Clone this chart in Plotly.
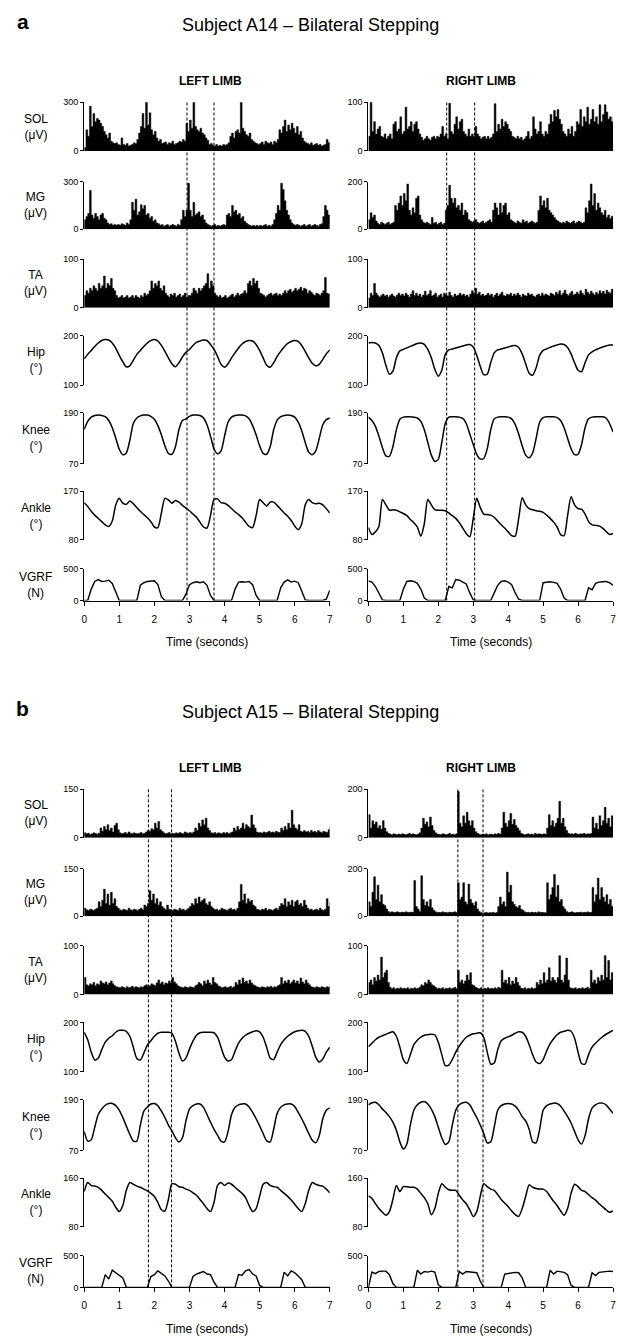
import plotly.graph_objects as go

W, H = 618, 1339

# ---------------- sample times ----------------
TIME_EMG = [round(i * 0.05, 2) for i in range(141)]
TIME_KIN = [round(i * 0.1, 1) for i in range(71)]

# ---------------- labels ----------------
PANEL_LETTERS = ["a", "b"]
PANEL_TITLES = ["Subject A14 – Bilateral Stepping", "Subject A15 – Bilateral Stepping"]
COL_TITLES = ["LEFT LIMB", "RIGHT LIMB"]
ROW_LABELS = ["SOL<br>(μV)", "MG<br>(μV)", "TA<br>(μV)", "Hip<br>(°)", "Knee<br>(°)", "Ankle<br>(°)", "VGRF<br>(N)"]
X_TICKS = [0, 1, 2, 3, 4, 5, 6, 7]
X_TITLE = "Time (seconds)"

# y tick values (min, max) per panel / column / row
YTICKS_A_L = [[0, 300], [0, 300], [0, 100], [100, 200], [70, 190], [80, 170], [0, 500]]
YTICKS_A_R = [[0, 100], [0, 200], [0, 100], [100, 200], [70, 190], [80, 170], [0, 500]]
YTICKS_B_L = [[0, 150], [0, 150], [0, 100], [100, 200], [70, 190], [80, 160], [0, 500]]
YTICKS_B_R = [[0, 200], [0, 200], [0, 100], [100, 200], [70, 190], [80, 160], [0, 500]]

# dashed event markers (seconds)
DASH_A_L = [2.93, 3.70]
DASH_A_R = [2.24, 3.04]
DASH_B_L = [1.83, 2.49]
DASH_B_R = [2.56, 3.28]

# ---------------- Subject A14 EMG (0.05 s) ----------------
A_L_SOL = [20, 130, 90, 275, 150, 230, 180, 200, 190, 170, 150, 120, 100, 80, 110, 60, 50, 45, 50, 40,
           35, 80, 40, 35, 45, 30, 35, 40, 50, 45, 70, 110, 150, 230, 140, 300, 160, 235, 130, 100,
           120, 80, 60, 70, 45, 50, 55, 40, 50, 45, 60, 40, 45, 50, 60, 55, 70, 60, 170, 120,
           190, 140, 300, 150, 130, 120, 140, 110, 100, 80, 65, 40, 45, 35, 30, 40, 30, 35, 30, 40,
           35, 40, 50, 90, 110, 80, 120, 130, 110, 300, 140, 120, 100, 90, 110, 70, 60, 50, 45, 40,
           45, 55, 40, 60, 50, 45, 55, 40, 60, 50, 70, 130, 110, 150, 190, 120, 160, 130, 170, 140,
           110, 150, 100, 120, 80, 60, 50, 45, 40, 50, 35, 40, 45, 35, 40, 30, 35, 40, 70, 50,
           60]
A_R_SOL = [30, 100, 40, 60, 35, 45, 50, 30, 28, 35, 25, 30, 35, 25, 55, 60, 40, 45, 70, 35,
           40, 90, 45, 50, 60, 40, 55, 60, 45, 35, 28, 22, 25, 30, 25, 22, 28, 30, 25, 30,
           28, 35, 50, 30, 35, 25, 98, 40, 35, 55, 70, 45, 60, 65, 40, 35, 30, 45, 30, 35,
           30, 50, 35, 30, 25, 28, 30, 25, 30, 25, 28, 35, 97, 40, 55, 45, 65, 50, 60, 55,
           45, 40, 30, 28, 25, 30, 25, 28, 22, 25, 30, 40, 25, 30, 70, 45, 35, 40, 60, 35,
           30, 40, 35, 55, 75, 60, 83, 70, 85, 65, 55, 40, 35, 30, 45, 35, 50, 30, 40, 60,
           55, 85, 50, 70, 60, 90, 55, 65, 85, 60, 70, 55, 95, 60, 75, 95, 80, 65, 70, 60,
           70]
A_L_MG = [60, 80, 100, 245, 90, 70, 100, 80, 60, 90, 100, 70, 60, 40, 30, 35, 25, 30, 25, 30,
          25, 35, 30, 25, 40, 30, 60, 170, 120, 190, 90, 110, 155, 130, 150, 90, 100, 70, 80, 50,
          60, 40, 35, 25, 30, 20, 25, 30, 20, 25, 30, 25, 20, 30, 25, 60, 120, 80, 120, 290,
          120, 80, 170, 90, 100, 110, 80, 90, 60, 40, 30, 25, 20, 25, 30, 20, 25, 20, 25, 30,
          25, 90, 100, 80, 150, 110, 120, 90, 100, 70, 80, 50, 40, 30, 25, 20, 25, 20, 25, 20,
          25, 20, 25, 30, 20, 25, 20, 30, 60, 100, 150, 120, 290, 250, 180, 120, 90, 60, 40, 30,
          25, 30, 25, 20, 25, 30, 20, 25, 30, 20, 25, 30, 25, 20, 30, 35, 80, 150, 120, 90,
          40]
A_R_MG = [40, 70, 50, 60, 35, 25, 20, 30, 25, 20, 25, 30, 20, 25, 30, 100, 80, 110, 140, 100,
          150, 120, 190, 80, 60, 90, 70, 130, 140, 60, 40, 30, 25, 30, 25, 20, 50, 25, 30, 20,
          25, 30, 20, 25, 80, 100, 185, 130, 110, 130, 90, 100, 80, 110, 60, 80, 70, 40, 35, 30,
          35, 40, 30, 25, 30, 35, 25, 30, 35, 40, 30, 80, 110, 90, 60, 110, 70, 100, 110, 60,
          70, 40, 35, 30, 25, 35, 30, 25, 40, 30, 35, 25, 30, 35, 30, 25, 30, 80, 140, 100,
          120, 90, 130, 80, 70, 60, 50, 40, 35, 30, 25, 30, 25, 35, 30, 25, 30, 35, 25, 30,
          35, 30, 25, 30, 90, 70, 120, 190, 100, 150, 80, 110, 90, 70, 60, 80, 50, 60, 45, 55,
          50]
A_L_TA = [25, 35, 30, 40, 35, 45, 40, 35, 50, 40, 45, 65, 40, 50, 45, 60, 40, 35, 25, 20,
          22, 25, 20, 22, 25, 20, 22, 25, 20, 25, 22, 20, 25, 22, 30, 25, 28, 35, 55, 40,
          50, 45, 55, 40, 35, 45, 30, 25, 22, 28, 25, 30, 22, 25, 28, 22, 25, 30, 22, 25,
          25, 30, 40, 35, 30, 40, 35, 40, 45, 50, 70, 40, 55, 45, 30, 25, 22, 25, 20, 22,
          25, 20, 22, 25, 28, 22, 25, 30, 25, 28, 30, 35, 30, 50, 55, 45, 60, 50, 55, 40,
          30, 28, 25, 22, 25, 28, 30, 25, 28, 30, 25, 28, 25, 30, 35, 30, 35, 38, 32, 35,
          40, 35, 38, 42, 35, 40, 38, 30, 35, 32, 28, 25, 30, 28, 25, 30, 35, 62, 30, 28,
          30]
A_R_TA = [20, 30, 25, 50, 30, 25, 22, 25, 28, 24, 26, 22, 25, 28, 24, 22, 26, 30, 25, 28,
          24, 30, 26, 22, 28, 35, 25, 30, 24, 28, 22, 26, 34, 25, 28, 35, 24, 26, 30, 22,
          25, 28, 22, 30, 26, 24, 32, 25, 22, 28, 24, 26, 30, 25, 28, 24, 26, 22, 28, 35,
          30, 40, 28, 32, 25, 28, 24, 26, 30, 25, 28, 22, 26, 30, 24, 28, 32, 25, 24, 28,
          26, 30, 24, 28, 25, 30, 26, 22, 28, 25, 24, 30, 26, 28, 24, 22, 26, 28, 24, 30,
          25, 28, 26, 24, 30, 28, 25, 32, 28, 35, 26, 30, 36, 28, 25, 30, 34, 26, 28, 32,
          28, 35, 30, 26, 38, 32, 28, 34, 30, 26, 32, 28, 35, 30, 34, 28, 36, 32, 30, 38,
          35]

# ---------------- Subject A14 kinematics / force (0.1 s) ----------------
A_L_HIP = [153, 162, 170, 178, 185, 190, 192, 191, 185, 174,
           160, 147, 137, 139, 150, 162, 170, 178, 185, 190,
           192, 189, 180, 168, 155, 143, 137, 145, 157, 166,
           172, 180, 186, 189, 191, 190, 182, 172, 158, 142,
           136, 143, 155, 165, 175, 183, 188, 190, 189, 182,
           170, 155, 140, 136, 145, 158, 168, 177, 184, 188,
           190, 188, 180, 168, 155, 144, 139, 142, 152, 163,
           171]
A_R_HIP = [185, 186, 185, 180, 165, 140, 122, 128, 155, 169,
           172, 175, 178, 181, 184, 185, 182, 172, 155, 132,
           118, 130, 162, 171, 173, 175, 177, 179, 181, 182,
           177, 160, 138, 121, 122, 145, 165, 171, 173, 175,
           177, 179, 180, 176, 163, 143, 124, 120, 135, 160,
           170, 173, 176, 179, 181, 183, 182, 176, 163, 145,
           130, 127, 145, 161, 167, 171, 174, 177, 179, 181,
           181]
A_L_KNEE = [151, 170, 180, 184, 185, 184, 181, 172, 155, 130,
            104, 91, 95, 125, 165, 178, 183, 185, 185, 182,
            175, 160, 138, 112, 94, 92, 110, 150, 172, 176,
            182, 185, 185, 184, 178, 162, 135, 105, 93, 100,
            135, 168, 180, 184, 185, 185, 183, 176, 160, 138,
            112, 94, 92, 110, 150, 173, 181, 184, 185, 184,
            180, 168, 148, 120, 97, 91, 100, 130, 162, 174,
            178]
A_R_KNEE = [180, 172, 158, 135, 108, 88, 87, 110, 150, 175,
            180, 181, 181, 180, 178, 170, 150, 120, 90, 75,
            80, 120, 165, 180, 181, 181, 180, 177, 165, 140,
            115, 92, 81, 82, 105, 150, 176, 180, 181, 181,
            180, 176, 163, 140, 112, 90, 84, 95, 130, 168,
            179, 181, 181, 181, 179, 172, 155, 130, 105, 91,
            92, 115, 155, 176, 180, 181, 181, 181, 178, 165,
            145]
A_L_ANKLE = [149, 142, 133, 126, 120, 114, 108, 105, 115, 145,
             157, 148, 146, 152, 147, 140, 133, 127, 121, 114,
             104, 103, 130, 157, 154, 148, 153, 150, 144, 139,
             134, 128, 122, 113, 104, 102, 125, 155, 156, 149,
             148, 144, 138, 132, 127, 121, 113, 105, 103, 125,
             155, 149, 143, 150, 150, 144, 137, 130, 124, 116,
             106, 99, 110, 145, 155, 149, 147, 148, 145, 138,
             130]
A_R_ANKLE = [103, 90, 95, 105, 155, 145, 135, 136, 135, 132,
             129, 125, 118, 112, 104, 87, 110, 155, 145, 136,
             135, 135, 134, 130, 125, 120, 112, 102, 92, 86,
             120, 157, 140, 128, 127, 126, 122, 115, 108, 102,
             95, 88, 87, 120, 158, 145, 138, 136, 134, 133,
             131, 126, 120, 113, 104, 90, 88, 125, 160, 145,
             138, 137, 128, 114, 108, 107, 106, 102, 96, 90,
             92]
A_L_VGRF = [0, 0, 180, 300, 330, 300, 305, 320, 270, 120,
            0, 0, 0, 0, 0, 0, 240, 280, 300, 305,
            310, 250, 60, 0, 0, 0, 0, 0, 0, 100,
            250, 280, 295, 280, 295, 240, 80, 0, 0, 0,
            0, 0, 0, 180, 290, 295, 290, 300, 250, 80,
            0, 0, 0, 0, 0, 0, 200, 290, 325, 290,
            305, 280, 150, 10, 0, 0, 0, 0, 0, 20,
            160]
A_R_VGRF = [310, 290, 220, 120, 10, 0, 0, 0, 0, 0,
            180, 300, 310, 300, 270, 180, 40, 0, 0, 0,
            0, 0, 0, 220, 200, 330, 320, 290, 260, 120,
            10, 0, 0, 0, 0, 0, 120, 240, 300, 310,
            290, 250, 120, 20, 0, 0, 0, 0, 0, 0,
            280, 290, 295, 285, 270, 180, 40, 0, 0, 0,
            0, 0, 0, 200, 170, 270, 290, 295, 300, 280,
            240]

# ---------------- Subject A15 EMG (0.05 s) ----------------
B_L_SOL = [15, 12, 14, 10, 12, 15, 13, 11, 14, 30, 20, 35, 25, 40, 22, 30, 18, 38, 45, 25,
           15, 12, 14, 16, 12, 18, 14, 12, 15, 13, 12, 14, 16, 12, 14, 18, 22, 20, 28, 25,
           45, 30, 50, 25, 20, 15, 12, 14, 16, 12, 14, 12, 15, 13, 16, 14, 12, 18, 15, 14,
           16, 14, 18, 30, 22, 45, 35, 55, 40, 60, 30, 22, 15, 14, 16, 12, 15, 14, 12, 16,
           14, 16, 12, 15, 18, 30, 22, 35, 25, 30, 45, 28, 40, 35, 30, 70, 40, 30, 18, 15,
           16, 14, 18, 15, 17, 20, 16, 18, 15, 20, 17, 16, 30, 22, 35, 25, 45, 30, 85, 40,
           30, 25, 40, 20, 18, 22, 18, 20, 16, 22, 18, 20, 16, 22, 18, 15, 20, 18, 16, 25,
           35]
B_R_SOL = [95, 40, 70, 55, 65, 40, 50, 35, 70, 40, 25, 18, 15, 12, 16, 14, 12, 15, 13, 16,
           14, 12, 15, 18, 13, 16, 14, 12, 15, 20, 40, 80, 55, 65, 45, 85, 50, 30, 20, 15,
           14, 12, 16, 15, 12, 14, 18, 13, 15, 12, 16, 190, 60, 45, 90, 60, 105, 70, 50, 70,
           40, 25, 18, 14, 12, 15, 13, 16, 12, 14, 15, 12, 16, 14, 18, 15, 40, 105, 60, 45,
           70, 100, 55, 75, 50, 40, 30, 18, 15, 12, 14, 16, 13, 15, 12, 18, 14, 16, 15, 13,
           16, 14, 40, 95, 50, 70, 45, 60, 80, 150, 60, 80, 45, 30, 18, 15, 16, 14, 18, 15,
           14, 16, 15, 18, 14, 16, 15, 17, 85, 40, 60, 35, 90, 50, 70, 125, 60, 80, 45, 90,
           60]
B_L_MG = [25, 20, 18, 22, 20, 18, 22, 25, 45, 30, 50, 85, 40, 70, 35, 75, 40, 55, 30, 25,
          20, 18, 22, 20, 18, 25, 20, 18, 22, 20, 18, 22, 25, 20, 35, 30, 40, 80, 50, 70,
          40, 55, 35, 45, 30, 25, 20, 35, 22, 20, 18, 22, 20, 18, 25, 20, 22, 18, 20, 25,
          30, 40, 35, 55, 40, 60, 45, 50, 55, 40, 35, 45, 30, 25, 20, 22, 18, 20, 25, 22,
          20, 18, 22, 25, 20, 22, 18, 25, 45, 100, 50, 70, 40, 55, 45, 50, 35, 30, 22, 20,
          18, 22, 20, 25, 18, 22, 20, 18, 22, 25, 20, 30, 40, 35, 55, 30, 45, 35, 50, 30,
          45, 50, 35, 40, 30, 50, 35, 25, 20, 22, 18, 20, 22, 18, 25, 20, 18, 22, 55, 30,
          45]
B_R_MG = [60, 40, 100, 165, 70, 130, 60, 90, 50, 45, 30, 20, 15, 18, 16, 15, 18, 16, 15, 17,
          15, 18, 16, 15, 17, 16, 150, 40, 30, 20, 170, 70, 45, 60, 40, 70, 35, 25, 18, 15,
          16, 15, 18, 15, 16, 14, 17, 15, 16, 18, 15, 140, 70, 80, 140, 60, 50, 135, 70, 55,
          45, 60, 30, 20, 15, 12, 14, 16, 13, 15, 14, 16, 13, 15, 40, 80, 50, 60, 40, 185,
          100, 130, 60, 50, 40, 35, 45, 30, 25, 18, 15, 16, 14, 17, 15, 16, 14, 18, 15, 16,
          15, 14, 140, 70, 90, 120, 175, 80, 130, 60, 70, 40, 30, 20, 15, 16, 18, 15, 14, 16,
          15, 17, 14, 16, 15, 18, 15, 16, 120, 60, 90, 160, 70, 120, 80, 60, 90, 50, 70, 40,
          50]
B_L_TA = [35, 20, 18, 22, 20, 25, 18, 22, 20, 28, 24, 22, 26, 20, 24, 28, 22, 18, 16, 15,
          14, 16, 15, 13, 16, 14, 15, 17, 14, 16, 15, 14, 16, 15, 18, 20, 16, 18, 22, 20,
          18, 24, 30, 22, 26, 20, 24, 22, 28, 24, 35, 26, 22, 18, 16, 15, 14, 16, 15, 14,
          16, 15, 14, 18, 20, 25, 22, 18, 28, 22, 30, 24, 20, 35, 25, 22, 18, 16, 14, 15,
          16, 14, 15, 17, 14, 16, 25, 20, 30, 22, 34, 25, 28, 22, 30, 24, 20, 18, 16, 15,
          14, 16, 15, 14, 16, 15, 17, 14, 16, 15, 18, 20, 35, 22, 28, 24, 30, 22, 26, 30,
          24, 28, 22, 34, 26, 22, 30, 24, 20, 16, 15, 14, 16, 15, 14, 16, 15, 14, 16, 15,
          18]
B_R_TA = [25, 30, 20, 35, 28, 40, 30, 77, 35, 45, 50, 25, 15, 12, 14, 11, 13, 12, 14, 12,
          13, 12, 14, 11, 13, 12, 14, 12, 13, 15, 20, 18, 25, 22, 30, 25, 20, 18, 15, 12,
          13, 12, 14, 11, 13, 12, 14, 12, 13, 15, 12, 50, 25, 30, 22, 28, 40, 30, 45, 20,
          18, 15, 13, 12, 14, 11, 13, 12, 14, 12, 13, 12, 14, 12, 15, 13, 50, 25, 30, 22,
          35, 20, 28, 22, 35, 25, 18, 13, 12, 14, 11, 13, 12, 14, 12, 13, 25, 20, 30, 22,
          45, 25, 30, 55, 28, 35, 30, 25, 35, 80, 30, 25, 40, 75, 30, 14, 13, 12, 14, 11,
          13, 12, 14, 12, 13, 15, 12, 50, 25, 30, 22, 35, 28, 40, 30, 80, 35, 70, 30, 45,
          35]

# ---------------- Subject A15 kinematics / force (0.1 s) ----------------
B_L_HIP = [180, 165, 140, 124, 128, 145, 160, 168, 173, 180,
           184, 184, 182, 172, 150, 127, 124, 138, 154, 163,
           172, 178, 180, 180, 180, 178, 162, 138, 122, 128,
           146, 162, 174, 179, 180, 180, 180, 179, 170, 150,
           130, 122, 125, 142, 158, 168, 174, 178, 181, 183,
           181, 170, 150, 128, 125, 140, 155, 165, 172, 177,
           181, 183, 184, 182, 172, 152, 130, 120, 126, 140,
           150]
B_R_HIP = [151, 158, 165, 170, 173, 176, 179, 181, 172, 150,
           125, 117, 135, 155, 164, 170, 174, 175, 176, 175,
           160, 135, 113, 114, 125, 140, 152, 162, 170, 174,
           177, 178, 179, 170, 140, 116, 118, 145, 163, 168,
           171, 174, 178, 181, 180, 172, 155, 135, 120, 117,
           125, 142, 157, 167, 175, 180, 182, 184, 182, 168,
           140, 117, 116, 135, 150, 158, 165, 171, 176, 180,
           184]
B_L_KNEE = [115, 92, 95, 125, 155, 168, 177, 181, 181, 176,
            165, 148, 128, 108, 92, 92, 130, 163, 173, 180,
            181, 176, 163, 148, 130, 116, 100, 90, 100, 140,
            168, 176, 180, 180, 172, 155, 137, 120, 106, 92,
            90, 115, 155, 172, 178, 180, 180, 173, 160, 145,
            128, 110, 93, 90, 120, 158, 172, 178, 180, 180,
            174, 160, 145, 128, 110, 94, 88, 105, 145, 165,
            171]
B_R_KNEE = [178, 183, 184, 178, 168, 160, 150, 137, 118, 90,
            73, 85, 130, 165, 178, 184, 186, 180, 168, 150,
            125, 100, 84, 90, 130, 165, 178, 183, 184, 178,
            163, 148, 130, 110, 88, 90, 125, 165, 176, 180,
            181, 180, 175, 165, 150, 140, 120, 90, 88, 120,
            165, 176, 180, 182, 181, 175, 163, 150, 135, 115,
            95, 85, 105, 145, 170, 178, 182, 182, 178, 168,
            158]
B_L_ANKLE = [138, 153, 148, 147, 145, 140, 134, 128, 122, 112,
             105, 115, 140, 153, 150, 147, 145, 142, 139, 135,
             130, 120, 108, 106, 125, 151, 150, 146, 145, 142,
             140, 136, 132, 125, 118, 110, 105, 120, 148, 153,
             148, 152, 150, 145, 140, 135, 128, 115, 105, 110,
             130, 150, 153, 148, 146, 145, 140, 135, 130, 124,
             117, 110, 105, 118, 140, 153, 150, 148, 147, 142,
             136]
B_R_ANKLE = [131, 127, 118, 110, 104, 99, 105, 125, 148, 138,
             146, 146, 145, 145, 142, 135, 128, 118, 100, 110,
             135, 151, 145, 141, 140, 140, 132, 124, 118, 108,
             97, 105, 130, 151, 146, 142, 140, 133, 125, 119,
             113, 106, 100, 97, 110, 130, 149, 145, 143, 142,
             142, 138, 130, 122, 115, 106, 99, 110, 135, 150,
             146, 140, 138, 133, 128, 124, 118, 113, 108, 104,
             106]
B_L_VGRF = [0, 0, 0, 0, 0, 0, 200, 130, 270, 230,
            190, 150, 0, 0, 0, 0, 0, 0, 0, 170,
            200, 260, 220, 180, 100, 0, 0, 0, 0, 0,
            0, 170, 210, 230, 250, 210, 200, 80, 0, 0,
            0, 0, 0, 0, 200, 190, 260, 280, 210, 180,
            30, 0, 0, 0, 0, 0, 0, 240, 180, 260,
            230, 180, 120, 0, 0, 0, 0, 0, 0, 0,
            0]
B_R_VGRF = [0, 240, 215, 250, 255, 255, 200, 60, 0, 0,
            0, 0, 0, 0, 270, 210, 250, 240, 255, 240,
            40, 0, 0, 0, 0, 0, 250, 210, 250, 240,
            235, 230, 100, 0, 0, 0, 0, 0, 0, 210,
            220, 235, 235, 230, 150, 0, 0, 0, 0, 0,
            0, 0, 270, 210, 255, 245, 235, 200, 30, 0,
            0, 0, 0, 0, 230, 185, 235, 245, 250, 255,
            250]

for arr in [A_L_SOL, A_R_SOL, A_L_MG, A_R_MG, A_L_TA, A_R_TA,
            B_L_SOL, B_R_SOL, B_L_MG, B_R_MG, B_L_TA, B_R_TA]:
    assert len(arr) == 141, len(arr)
for arr in [A_L_HIP, A_R_HIP, A_L_KNEE, A_R_KNEE, A_L_ANKLE, A_R_ANKLE, A_L_VGRF, A_R_VGRF,
            B_L_HIP, B_R_HIP, B_L_KNEE, B_R_KNEE, B_L_ANKLE, B_R_ANKLE, B_L_VGRF, B_R_VGRF]:
    assert len(arr) == 71, len(arr)

# ---------------- layout geometry (pixels) ----------------
COL_X = [(82, 330), (369, 616)]
ROW_TOP = [98, 178, 256, 333, 411, 490, 568]
ROW_BOT = [147, 226, 305, 383, 462, 539, 600]
PANEL_OFF = [0, 692]
FONT = "Arial, 'Liberation Sans', sans-serif"

PANELS = [
    [dict(series=[A_L_SOL, A_L_MG, A_L_TA, A_L_HIP, A_L_KNEE, A_L_ANKLE, A_L_VGRF], ticks=YTICKS_A_L, dash=DASH_A_L),
     dict(series=[A_R_SOL, A_R_MG, A_R_TA, A_R_HIP, A_R_KNEE, A_R_ANKLE, A_R_VGRF], ticks=YTICKS_A_R, dash=DASH_A_R)],
    [dict(series=[B_L_SOL, B_L_MG, B_L_TA, B_L_HIP, B_L_KNEE, B_L_ANKLE, B_L_VGRF], ticks=YTICKS_B_L, dash=DASH_B_L),
     dict(series=[B_R_SOL, B_R_MG, B_R_TA, B_R_HIP, B_R_KNEE, B_R_ANKLE, B_R_VGRF], ticks=YTICKS_B_R, dash=DASH_B_R)],
]


def py(px):
    return 1 - px / H


fig = go.Figure()
layout = {}
annotations = []
shapes = []

for p, panel in enumerate(PANELS):
    off = PANEL_OFF[p]
    annotations.append(dict(text="<b>%s</b>" % PANEL_LETTERS[p], x=20 / W, y=py(off + 17), xref="paper", yref="paper",
                            showarrow=False, xanchor="center", yanchor="middle", font=dict(size=21, family=FONT)))
    annotations.append(dict(text=PANEL_TITLES[p], x=311 / W, y=py(off + 20), xref="paper", yref="paper",
                            showarrow=False, xanchor="center", yanchor="middle", font=dict(size=18, family=FONT)))
    for r, lab in enumerate(ROW_LABELS):
        yc = (ROW_TOP[r] + ROW_BOT[r]) / 2 + off
        annotations.append(dict(text=lab, x=33 / W, y=py(yc), xref="paper", yref="paper", showarrow=False,
                                xanchor="center", yanchor="middle", align="center",
                                font=dict(size=12, family=FONT, color="black")))
    for c, col in enumerate(panel):
        x0, x1 = COL_X[c]
        xc = [210, 483][c]
        annotations.append(dict(text="<b>%s</b>" % COL_TITLES[c], x=xc / W, y=py(off + 77), xref="paper",
                                yref="paper", showarrow=False, xanchor="center", yanchor="middle",
                                font=dict(size=12, family=FONT)))
        annotations.append(dict(text=X_TITLE, x=(x0 + x1) / 2 / W, y=py(off + 642), xref="paper", yref="paper",
                                showarrow=False, xanchor="center", yanchor="middle",
                                font=dict(size=12, family=FONT)))
        for r in range(7):
            n = p * 14 + c * 7 + r + 1
            xn = "x" if n == 1 else "x%d" % n
            yn = "y" if n == 1 else "y%d" % n
            lo, hi = col["ticks"][r]
            vals = col["series"][r]
            if r < 3:
                fig.add_trace(go.Scatter(x=TIME_EMG, y=vals, xaxis=xn, yaxis=yn, mode="lines",
                                         line=dict(color="black", width=0.5, shape="hv"), fill="tozeroy",
                                         fillcolor="black", hoverinfo="skip"))
            elif r < 6:
                fig.add_trace(go.Scatter(x=TIME_KIN, y=vals, xaxis=xn, yaxis=yn, mode="lines",
                                         line=dict(color="black", width=1.5, shape="spline", smoothing=0.7),
                                         hoverinfo="skip"))
            else:
                fig.add_trace(go.Scatter(x=TIME_KIN, y=vals, xaxis=xn, yaxis=yn, mode="lines",
                                         line=dict(color="black", width=1.4), hoverinfo="skip"))
            xdom = [x0 / W, x1 / W]
            ydom = [py(ROW_BOT[r] + off), py(ROW_TOP[r] + off)]
            xax = dict(domain=xdom, range=[0, 7], anchor=yn, showgrid=False, zeroline=False, fixedrange=True)
            if r == 6:
                xax.update(showline=True, linecolor="black", linewidth=1, ticks="outside", ticklen=4,
                           tickcolor="black", tickvals=X_TICKS, tickfont=dict(size=10, family=FONT),
                           ticklabelstandoff=5)
            else:
                xax.update(visible=False)
            yax = dict(domain=ydom, range=[lo, hi], anchor=xn, showgrid=False, zeroline=False,
                       showline=True, linecolor="black", linewidth=1, ticks="outside", ticklen=3,
                       tickcolor="black", tickvals=[lo, hi], tickfont=dict(size=9, family=FONT),
                       fixedrange=True)
            layout["xaxis" if n == 1 else "xaxis%d" % n] = xax
            layout["yaxis" if n == 1 else "yaxis%d" % n] = yax
        vg = p * 14 + c * 7 + 7
        for t in col["dash"]:
            shapes.append(dict(type="line", xref="x%d" % vg, yref="paper", x0=t, x1=t,
                               y0=py(off + ROW_BOT[6]), y1=py(off + ROW_TOP[0]),
                               line=dict(color="black", width=1, dash="3px,2px")))

fig.update_layout(**layout)
fig.update_layout(width=W, height=H, margin=dict(l=0, r=0, t=0, b=0), showlegend=False,
                  paper_bgcolor="white", plot_bgcolor="white",
                  font=dict(family=FONT, color="black"),
                  annotations=annotations, shapes=shapes)

fig.write_html("out.html", config={"displayModeBar": False, "staticPlot": True},
               post_script="document.body.style.margin='0';document.body.style.overflow='hidden';")
